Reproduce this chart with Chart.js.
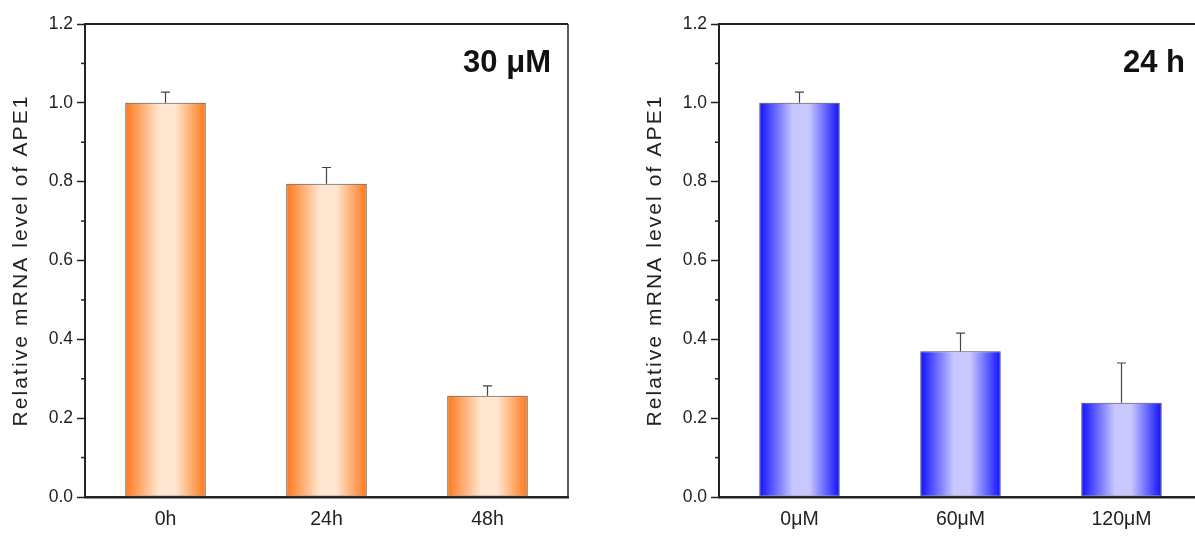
<!DOCTYPE html>
<html>
<head>
<meta charset="utf-8">
<script src="https://cdn.jsdelivr.net/npm/chart.js@4"></script>
<style>
  html, body { margin:0; padding:0; background:#fff; overflow:hidden; width:1195px; height:537px; }
  .panel { position:absolute; top:0; width:600px; height:537px; }
</style>
</head>
<body>
<div class="panel" style="left:0"><canvas id="timeChart"></canvas></div>
<div class="panel" style="left:634px"><canvas id="doseChart"></canvas></div>
<script>
// left panel: 30 uM over time
const timeLabels = ['0h', '24h', '48h'];
const timeValues = [1.0, 0.795, 0.257];
const timeErrors = [0.027, 0.041, 0.025];

// right panel: 24 h by dose
const doseLabels = ['0μM', '60μM', '120μM'];
const doseValues = [1.0, 0.370, 0.239];
const doseErrors = [0.027, 0.046, 0.101];

const yTitle = 'Relative mRNA level of APE1';
const minorTicks = [0.1, 0.3, 0.5, 0.7, 0.9, 1.1];

const orange = ['#ff781a', '#ffe6d0'];
const blue = ['#1010ff', '#c8c8ff'];

const tickFont = '"Liberation Sans", Arial, sans-serif';
const ink = '#222';

function barGradient(c, colors) {
  const chart = c.chart;
  const x = chart.scales.x;
  if (c.dataIndex === undefined || !x) return colors[0];
  const w = x.width / chart.data.labels.length * 0.5;
  const cx = x.getPixelForValue(c.dataIndex);
  if (!isFinite(cx) || !isFinite(w) || w <= 0) return colors[0];
  const g = chart.ctx.createLinearGradient(cx - w/2, 0, cx + w/2, 0);
  g.addColorStop(0, colors[0]);
  g.addColorStop(0.42, colors[1]);
  g.addColorStop(0.62, colors[1]);
  g.addColorStop(1, colors[0]);
  return g;
}

const framePlugin = {
  id: 'frame',
  beforeDraw(chart) { chart.ctx.letterSpacing = '2.1px'; },   // only the y title is drawn before datasets
  beforeDatasetsDraw(chart) { chart.ctx.letterSpacing = '0px'; },
  afterDatasetsDraw(chart) {
    const ctx = chart.ctx, y = chart.scales.y;
    chart.data.datasets.forEach((ds, di) => {
      chart.getDatasetMeta(di).data.forEach((bar, i) => {
        const top = y.getPixelForValue(ds.data[i] + ds.errors[i]);
        ctx.save();
        ctx.strokeStyle = '#444';
        ctx.lineWidth = 1.2;
        ctx.beginPath();
        ctx.moveTo(bar.x, bar.y);
        ctx.lineTo(bar.x, top);
        ctx.moveTo(bar.x - 4.5, top);
        ctx.lineTo(bar.x + 4.5, top);
        ctx.stroke();
        ctx.restore();
      });
    });
  },
  afterDraw(chart, args, opts) {
    const ctx = chart.ctx, a = chart.chartArea, y = chart.scales.y;
    ctx.save();
    ctx.letterSpacing = '0px';
    ctx.strokeStyle = ink;
    ctx.lineWidth = 2;
    ctx.beginPath();
    ctx.moveTo(a.left, a.top);
    ctx.lineTo(a.right, a.top);
    ctx.stroke();
    ctx.lineWidth = 1.5;
    ctx.beginPath();
    ctx.moveTo(a.right, a.top);
    ctx.lineTo(a.right, a.bottom);
    ctx.stroke();
    minorTicks.forEach(v => {
      const py = y.getPixelForValue(v);
      ctx.beginPath();
      ctx.moveTo(a.left - 4, py);
      ctx.lineTo(a.left, py);
      ctx.stroke();
    });
    ctx.fillStyle = '#111';
    ctx.font = 'bold 31px "Liberation Sans", Arial, sans-serif';
    ctx.textAlign = 'right';
    ctx.textBaseline = 'alphabetic';
    ctx.fillText(opts.label, a.right - 17, a.top + 48);
    ctx.restore();
  }
};

function makeChart(id, labels, values, errors, colors, label) {
  return new Chart(document.getElementById(id), {
    type: 'bar',
    data: {
      labels: labels,
      datasets: [{
        data: values,
        errors: errors,
        backgroundColor: c => barGradient(c, colors),
        borderColor: '#4a4a4a',
        borderWidth: 1,
        borderSkipped: false,
        categoryPercentage: 1,
        barPercentage: 0.5
      }]
    },
    options: {
      responsive: true,
      maintainAspectRatio: false,
      animation: false,
      layout: { padding: { left: 0, top: 24, right: 32, bottom: 0 } },
      plugins: {
        legend: { display: false },
        tooltip: { enabled: false },
        frame: { label: label }
      },
      scales: {
        x: {
          afterFit(s) { s.height = 40; },
          grid: { display: false, drawTicks: false },
          border: { display: true, color: ink, width: 2.5 },
          ticks: { padding: 11, color: ink, font: { family: tickFont, size: 19.5 }, z: 1 }
        },
        y: {
          min: 0, max: 1.2,
          afterFit(s) { s.width = 85; },
          grid: { display: true, drawOnChartArea: false, drawTicks: true, tickLength: 8, tickColor: ink, tickWidth: 1.5, z: -1 },
          border: { display: true, color: ink, width: 2 },
          ticks: { stepSize: 0.2, padding: 4, color: ink, font: { family: tickFont, size: 17.5 },
                   callback: v => v.toFixed(1), z: 1 },
          title: { display: true, text: yTitle, color: ink,
                   font: { family: '"Liberation Sans", Arial, sans-serif', size: 21 },
                   padding: { top: 9, bottom: 0 } }
        }
      }
    },
    plugins: [framePlugin]
  });
}

makeChart('timeChart', timeLabels, timeValues, timeErrors, orange, '30 μM');
makeChart('doseChart', doseLabels, doseValues, doseErrors, blue, '24 h');
</script>
</body>
</html>
